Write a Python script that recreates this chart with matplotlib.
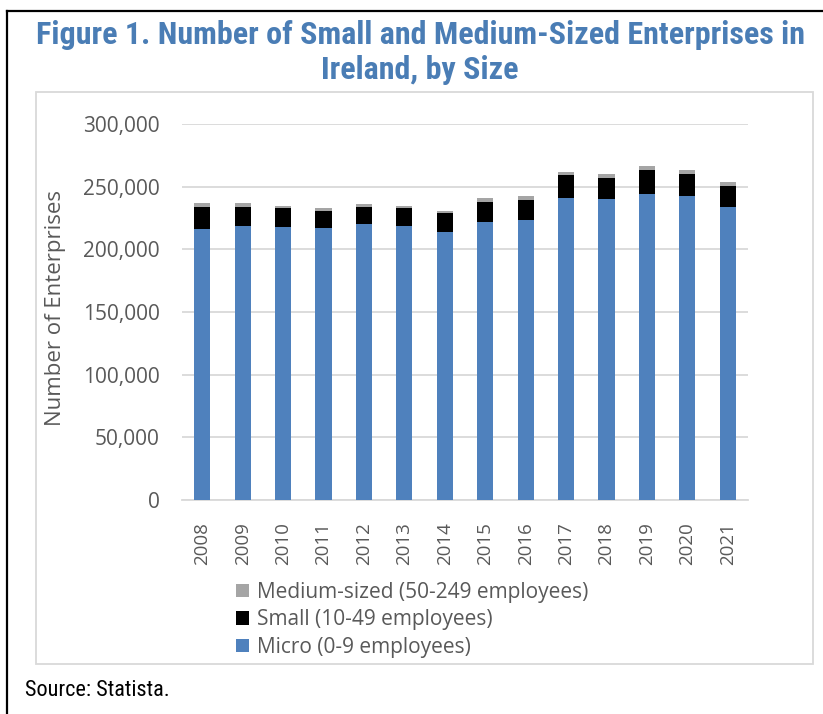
import matplotlib
matplotlib.use("Agg")
import matplotlib.pyplot as plt
from matplotlib.patches import Rectangle
from matplotlib.lines import Line2D
from matplotlib import font_manager as fm
import numpy as np

years = ["2008", "2009", "2010", "2011", "2012", "2013", "2014",
         "2015", "2016", "2017", "2018", "2019", "2020", "2021"]
micro = [215900, 219000, 218000, 216900, 220100, 219000, 214000,
         222100, 223100, 241200, 240200, 244400, 242200, 233800]
small = [18000, 14900, 14800, 13800, 13800, 13800, 14600,
         15700, 15900, 18100, 16700, 18900, 18100, 17000]
medium = [3200, 3200, 2100, 2100, 2100, 2100, 2100,
          3200, 3200, 2100, 3200, 3400, 3200, 3200]
labels = ["Micro (0-9 employees)", "Small (10-49 employees)",
          "Medium-sized (50-249 employees)"]
title = "Figure 1. Number of Small and Medium-Sized Enterprises in\nIreland, by Size"
ylabel = "Number of Enterprises"
source = "Source: Statista."

# pick a condensed font if one is installed
names = {f.name for f in fm.fontManager.ttflist}
narrow_family = None
for cand in ["Liberation Sans Narrow", "DejaVu Sans Condensed", "Roboto Condensed",
             "Open Sans Condensed"]:
    if cand in names:
        narrow_family = cand
        break
if narrow_family:
    title_kw = dict(family=narrow_family)
else:
    has_dv_cond = any(f.name == "DejaVu Sans" and f.stretch == "condensed"
                      for f in fm.fontManager.ttflist)
    if has_dv_cond:
        title_kw = dict(family="DejaVu Sans", fontstretch="condensed")
    else:
        title_kw = dict(family="Roboto")

W, H = 823, 714
fig = plt.figure(figsize=(W / 100, H / 100), dpi=100)

def fx(x):
    return x / W

def fy(y):
    return 1 - y / H

# outer frame (top and left)
fig.add_artist(Line2D([fx(7), fx(823)], [fy(11), fy(11)], color="black", lw=1.6))
fig.add_artist(Line2D([fx(7), fx(7)], [fy(11), fy(714)], color="black", lw=1.6))
# inner chart box
fig.add_artist(Rectangle((fx(36), fy(664)), fx(813) - fx(36), fy(92) - fy(664),
                         fill=False, edgecolor="#d9d9d9", lw=1.3))

fig.text(fx(420), fy(35), title.split("\n")[0], ha="center", va="center",
         color="#4a7db5", fontsize=23, fontweight="bold", **title_kw)
fig.text(fx(420), fy(70), title.split("\n")[1], ha="center", va="center",
         color="#4a7db5", fontsize=23, fontweight="bold", **title_kw)

ax = fig.add_axes([fx(182), fy(500), fx(748) - fx(182), fy(124) - fy(500)])
x = np.arange(len(years))
micro_a = np.array(micro)
small_a = np.array(small)
medium_a = np.array(medium)
b1 = ax.bar(x, micro_a, width=0.4, color="#4f81bd", label=labels[0], zorder=3)
b2 = ax.bar(x, small_a, width=0.4, bottom=micro_a, color="black", label=labels[1], zorder=3)
b3 = ax.bar(x, medium_a, width=0.4, bottom=micro_a + small_a, color="#a5a5a5",
            label=labels[2], zorder=3)

ax.set_xlim(-0.5, len(years) - 0.5)
ax.set_ylim(0, 300000)
ax.set_yticks(np.arange(0, 300001, 50000))
ax.set_yticklabels([f"{v:,}" for v in range(0, 300001, 50000)])
ax.set_xticks(x)
ax.set_xticklabels(years, rotation=90)
ax.grid(axis="y", color="#d9d9d9", lw=1.3, zorder=0)
for s in ["top", "right", "left"]:
    ax.spines[s].set_visible(False)
ax.spines["bottom"].set_color("#d9d9d9")
ax.spines["bottom"].set_linewidth(1.3)
ax.tick_params(axis="both", length=0, colors="#595959")
ax.tick_params(axis="y", pad=16, labelsize=15)
ax.tick_params(axis="x", pad=16, labelsize=13.5)
for tl in ax.get_xticklabels() + ax.get_yticklabels():
    tl.set_family("Open Sans")

fig.text(fx(55), fy(308), ylabel, rotation=90, ha="center", va="center",
         color="#595959", fontsize=16, family="Open Sans")

handles = [b3, b2, b1]
leg = fig.legend(handles, [labels[2], labels[1], labels[0]], loc="upper left",
                 bbox_to_anchor=(fx(236), fy(582)), frameon=False,
                 prop={"family": "Open Sans", "size": 15},
                 handlelength=0.6, handleheight=0.6, handletextpad=0.4,
                 labelspacing=0.3, borderaxespad=0, borderpad=0)
for tt in leg.get_texts():
    tt.set_color("#595959")

fig.text(fx(25), fy(690), source, ha="left", va="center", color="black",
         fontsize=16, **title_kw)

fig.savefig("out.png", dpi=100)
